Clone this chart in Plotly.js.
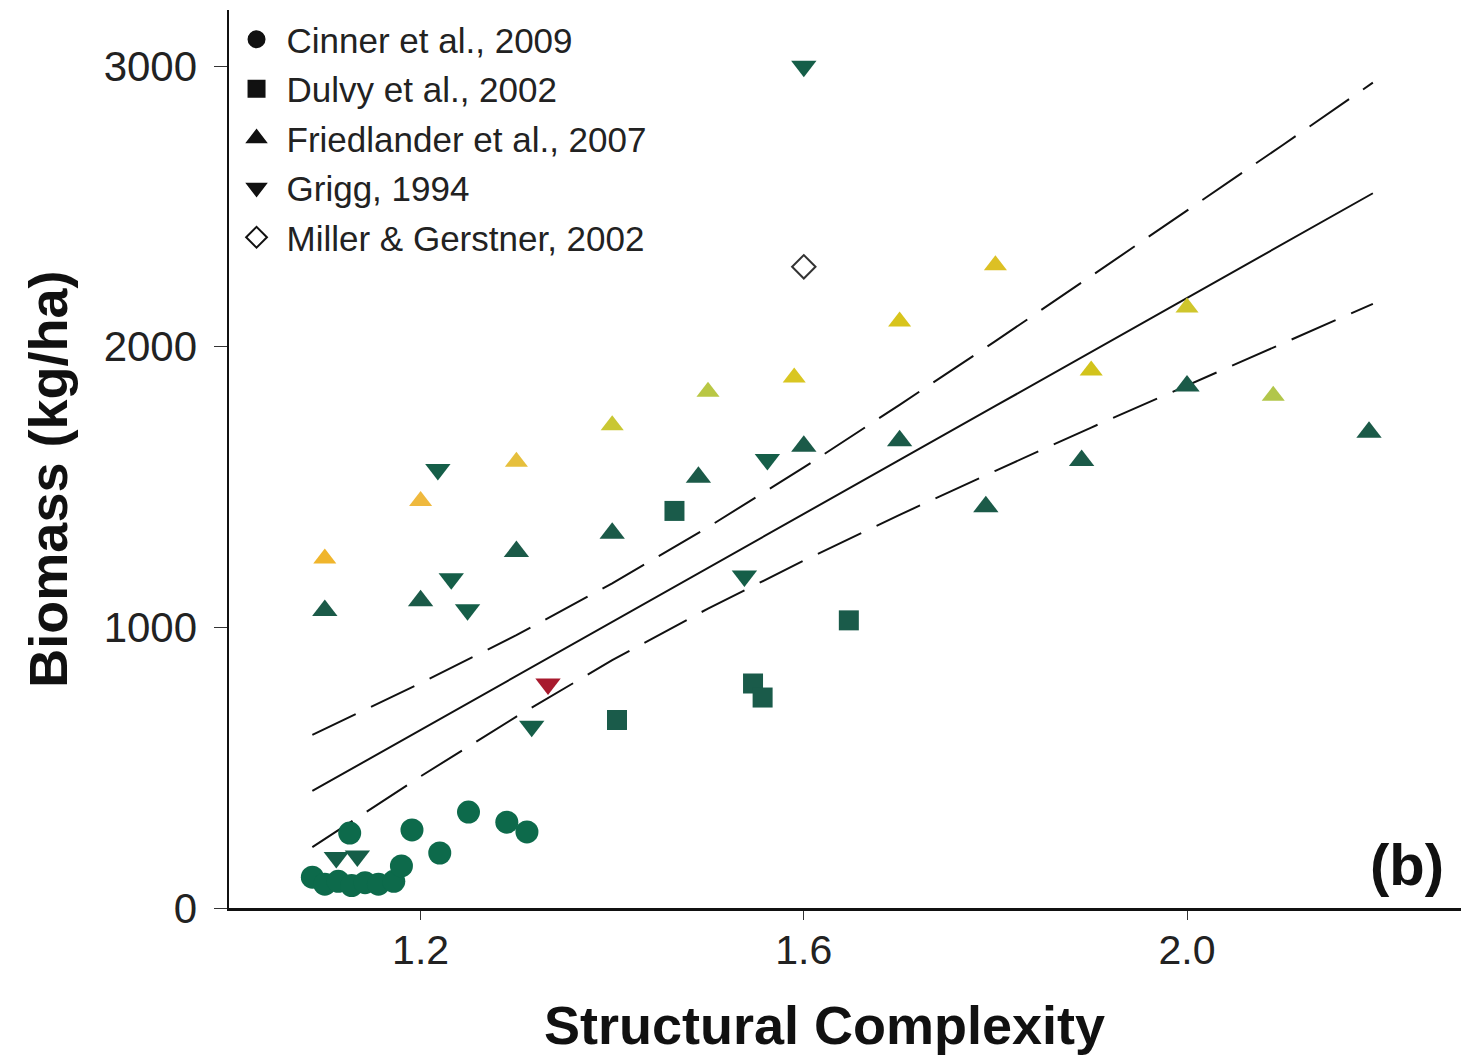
<!DOCTYPE html>
<html>
<head>
<meta charset="utf-8">
<script src="https://cdn.plot.ly/plotly-3.0.1.min.js"></script>
<style>
  html, body { margin: 0; padding: 0; background: #ffffff; }
  #chart { width: 1461px; height: 1055px; }
</style>
</head>
<body>
<div id="chart"></div>
<script>
// ---- Data: structural complexity (x) vs fish biomass in kg/ha (y) ----
const cinnerX = [1.087, 1.100, 1.114, 1.128, 1.142, 1.156, 1.172, 1.180, 1.126, 1.191, 1.220, 1.250, 1.290, 1.311];
const cinnerY = [110, 85, 95, 80, 90, 85, 95, 150, 267, 278, 196, 342, 306, 271];

const dulvyX = [1.405, 1.465, 1.547, 1.557, 1.647];
const dulvyY = [670, 1415, 800, 750, 1025];

// Friedlander et al. sites, split into the light and dark groups
const friedLightX = [1.10, 1.20, 1.30, 1.40, 1.50, 1.59, 1.70, 1.80, 1.90, 2.00, 2.09];
const friedLightY = [1245, 1450, 1590, 1720, 1840, 1890, 2090, 2290, 1915, 2140, 1825];
const friedDarkX = [1.10, 1.20, 1.30, 1.40, 1.49, 1.60, 1.70, 1.79, 1.89, 2.00, 2.19];
const friedDarkY = [1060, 1095, 1270, 1335, 1535, 1645, 1665, 1430, 1595, 1860, 1695];

const griggX = [1.60, 1.218, 1.232, 1.249, 1.562, 1.538, 1.316, 1.112, 1.134];
const griggY = [3000, 1563, 1173, 1063, 1598, 1183, 648, 180, 185];
const griggRedX = [1.333];
const griggRedY = [798];

const millerX = [1.60];
const millerY = [2285];

// Regression fit with its confidence band
const fitX = [1.087, 1.2, 1.3, 1.4, 1.5, 1.6, 1.7, 1.8, 1.9, 2.0, 2.1, 2.194];
const fitY = [417, 635, 827, 1020, 1212, 1404, 1597, 1789, 1982, 2174, 2366, 2547];
const upperY = [617, 801, 972, 1157, 1357, 1570, 1793, 2020, 2252, 2485, 2719, 2941];
const lowerY = [217, 469, 682, 883, 1067, 1238, 1401, 1558, 1712, 1863, 2013, 2153];

const xTicks = [1.2, 1.6, 2.0];
const xTickText = ["1.2", "1.6", "2.0"];
const yTicks = [0, 1000, 2000, 3000];

const legendNames = ["Cinner et al., 2009", "Dulvy et al., 2002", "Friedlander et al., 2007", "Grigg, 1994", "Miller & Gerstner, 2002"];

// ---- Styles ----
const FONT = "Liberation Sans, Arial, Helvetica, sans-serif";
const lightTones = ["#f0b52c", "#efb93e", "#e6bf3c", "#c9c733", "#b9c744", "#d9c622", "#d8c41c", "#dcc024", "#d2c31c", "#cfc62c", "#b2c64a"];
const dashStyle = "48px,17px";

const traces = [
  { x: fitX, y: upperY, mode: "lines", line: { color: "#111", width: 2, dash: dashStyle }, showlegend: false, hoverinfo: "skip" },
  { x: fitX, y: lowerY, mode: "lines", line: { color: "#111", width: 2, dash: dashStyle }, showlegend: false, hoverinfo: "skip" },
  { x: fitX, y: fitY, mode: "lines", line: { color: "#111", width: 2 }, showlegend: false, hoverinfo: "skip" },

  { x: cinnerX, y: cinnerY, mode: "markers", showlegend: false,
    marker: { symbol: "circle", size: 23, color: "#0d6a4b" } },
  { x: dulvyX, y: dulvyY, mode: "markers", showlegend: false,
    marker: { symbol: "square", size: 20, color: "#1a5b4a" } },
  { x: friedLightX, y: friedLightY, mode: "markers", showlegend: false,
    marker: { symbol: "triangle-up", size: 20, color: lightTones } },
  { x: friedDarkX, y: friedDarkY, mode: "markers", showlegend: false,
    marker: { symbol: "triangle-up", size: 22, color: "#1b5a48" } },
  { x: griggX, y: griggY, mode: "markers", showlegend: false,
    marker: { symbol: "triangle-down", size: 22, color: "#155e48" } },
  { x: griggRedX, y: griggRedY, mode: "markers", showlegend: false,
    marker: { symbol: "triangle-down", size: 22, color: "#a81a2e" } },
  { x: millerX, y: millerY, mode: "markers", showlegend: false,
    marker: { symbol: "diamond-open", size: 18, color: "#333", line: { width: 2, color: "#333" } } }
];

// Legend keys are drawn in black
const legendSymbols = ["circle", "square", "triangle-up", "triangle-down", "diamond-open"];
legendNames.forEach(function (name, i) {
  traces.push({
    x: [null], y: [null], mode: "markers", name: name, legendgroup: "g" + i,
    marker: { symbol: legendSymbols[i], size: 16, color: "#111", line: { width: 2, color: "#111" } }
  });
});

const layout = {
  width: 1461, height: 1055,
  margin: { l: 229, r: 0, t: 10, b: 147 },
  paper_bgcolor: "#ffffff", plot_bgcolor: "#ffffff",
  font: { family: FONT, color: "#222" },
  showlegend: true,
  legend: {
    x: -0.002, y: 1.0, xanchor: "left", yanchor: "top",
    bgcolor: "rgba(0,0,0,0)", font: { family: FONT, size: 35, color: "#222" },
    tracegroupgap: 1, itemsizing: "trace", itemwidth: 50
  },
  xaxis: {
    range: [1.0, 2.286], showgrid: false, zeroline: false,
    showline: true, linecolor: "#111", linewidth: 3,
    ticks: "outside", ticklen: 9, tickwidth: 1, tickcolor: "#333",
    tickvals: xTicks, ticktext: xTickText, ticklabelstandoff: -5,
    tickfont: { family: FONT, size: 41, color: "#222" }
  },
  yaxis: {
    range: [0, 3200], showgrid: false, zeroline: false,
    showline: true, linecolor: "#111", linewidth: 2.5,
    ticks: "outside", ticklen: 13, tickwidth: 1, tickcolor: "#333",
    tickvals: yTicks, ticklabelstandoff: 8,
    tickfont: { family: FONT, size: 42, color: "#222" }
  },
  annotations: [
    { text: "<b>Structural Complexity</b>", xref: "paper", yref: "paper",
      x: 0.4836, y: -0.130, xanchor: "center", yanchor: "middle", showarrow: false,
      font: { family: FONT, size: 54, color: "#111" } },
    { text: "<b>Biomass (kg/ha)</b>", xref: "paper", yref: "paper", textangle: -90,
      x: -0.147, y: 0.478, xanchor: "center", yanchor: "middle", showarrow: false,
      font: { family: FONT, size: 54, color: "#111" } },
    { text: "<b>(b)</b>", xref: "paper", yref: "paper",
      x: 0.956, y: 0.048, xanchor: "center", yanchor: "middle", showarrow: false,
      font: { family: FONT, size: 58, color: "#111" } }
  ]
};

Plotly.newPlot("chart", traces, layout, { displayModeBar: false, staticPlot: true });
</script>
</body>
</html>
